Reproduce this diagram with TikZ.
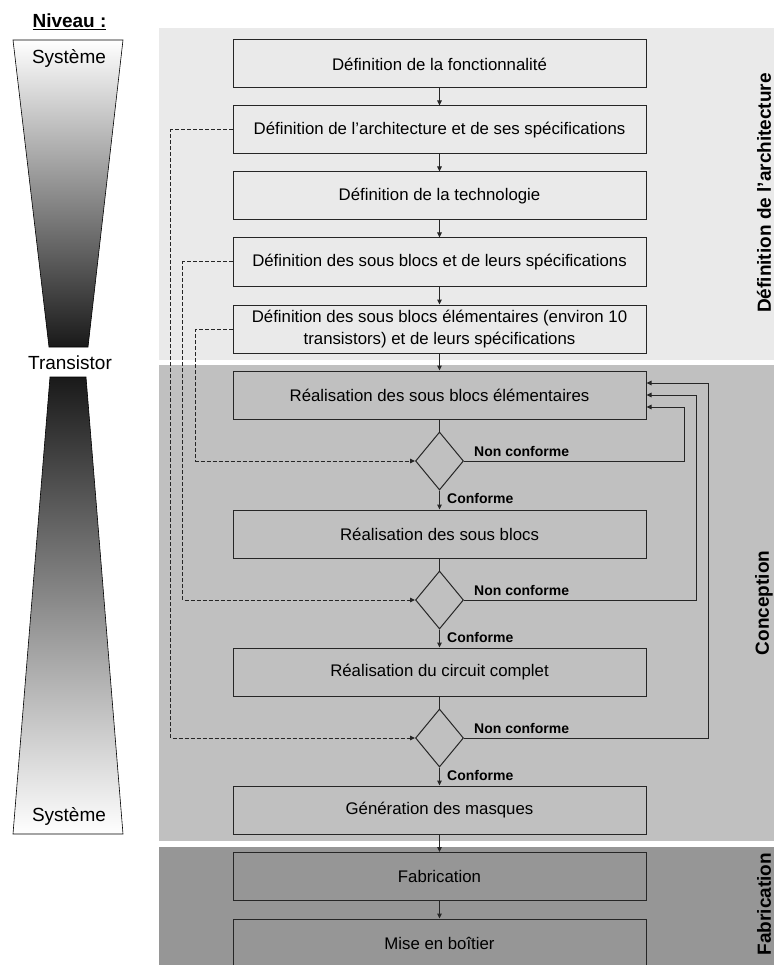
\documentclass[tikz,border=0pt]{standalone}
\usepackage{fontspec}
\setmainfont{Liberation Sans}
\usetikzlibrary{positioning,shapes.geometric,arrows.meta}
\definecolor{fondDef}{HTML}{EAEAEA}
\definecolor{fondConc}{HTML}{C0C0C0}
\definecolor{fondFab}{HTML}{969696}
\definecolor{trait}{HTML}{262626}

\begin{document}
\begin{tikzpicture}[x=1pt, y=-1pt,
    etape/.style={draw=trait, line width=1pt, minimum width=413pt, minimum height=48pt, inner sep=0pt, align=center, font=\fontsize{16.8}{22.5}\selectfont},
    losange/.style={draw=trait, line width=1pt, diamond, minimum width=48pt, minimum height=58pt, inner sep=0pt},
    lien/.style={draw=trait, line width=1pt, -{Triangle[length=5pt,width=4.5pt]}},
    retour/.style={lien, dash pattern=on 4pt off 2pt},
    verdict/.style={font=\bfseries\fontsize{14}{16}\selectfont, inner sep=0pt},
    phase/.style={rotate=90, inner sep=0pt, font=\bfseries\fontsize{19}{22}\selectfont},
    niveau/.style={font=\fontsize{19}{22}\selectfont}]
    \useasboundingbox (0,0) rectangle (774,965);

    % Bandes de fond
    \fill[fondDef] (159,28) rectangle (774,360);
    \fill[fondConc] (159,365) rectangle (774,841);
    \fill[fondFab] (159,847) rectangle (774,965);

    % Niveaux
    \node[font=\bfseries\fontsize{19}{22}\selectfont] (titreNiveau) at (69.5,22) {\underline{Niveau :}};
    \shadedraw[draw=black, line width=0.6pt, top color=white, middle color=black!22, bottom color=black!90] (13,40) -- (123,40) -- (88,347) -- (49,347) -- cycle;
    \shadedraw[draw=black, line width=0.6pt, top color=black!90, middle color=black!25, bottom color=white] (50,377) -- (86,377) -- (123,834) -- (13,834) -- cycle;
    \node[niveau] (sysHaut) at (69,58) {Système};
    \node[niveau] (transistor) at (70,363) {Transistor};
    \node[niveau] (sysBas) at (69,816) {Système};

    % Etapes
    \node[etape] (fonct) at (439.5,64) {Définition de la fonctionnalité};
    \node[etape] (archi) at (439.5,130) {Définition de l’architecture et de ses spécifications};
    \node[etape] (techno) at (439.5,196) {Définition de la technologie};
    \node[etape] (sousBlocs) at (439.5,262) {Définition des sous blocs et de leurs spécifications};
    \node[etape] (blocsElem) at (439.5,329) {Définition des sous blocs élémentaires (environ 10\\transistors) et de leurs spécifications};
    \node[etape] (realElem) at (439.5,395) {Réalisation des sous blocs élémentaires};
    \node[losange] (testElem) at (439.5,461) {};
    \node[etape] (realBlocs) at (439.5,534) {Réalisation des sous blocs};
    \node[losange] (testBlocs) at (439.5,600) {};
    \node[etape] (realCircuit) at (439.5,672) {Réalisation du circuit complet};
    \node[losange] (testCircuit) at (439.5,738) {};
    \node[etape] (masques) at (439.5,810) {Génération des masques};
    \node[etape] (fab) at (439.5,876.5) {Fabrication};
    \node[etape] (boitier) at (439.5,943) {Mise en boîtier};

    % Enchainement
    \draw[lien] (fonct) -- (archi);
    \draw[lien] (archi) -- (techno);
    \draw[lien] (techno) -- (sousBlocs);
    \draw[lien] (sousBlocs) -- (blocsElem);
    \draw[lien] (blocsElem) -- (realElem);
    \draw[draw=trait, line width=1pt] (realElem) -- (testElem);
    \draw[lien] (testElem) -- (realBlocs);
    \draw[draw=trait, line width=1pt] (realBlocs) -- (testBlocs);
    \draw[lien] (testBlocs) -- (realCircuit);
    \draw[draw=trait, line width=1pt] (realCircuit) -- (testCircuit);
    \draw[lien] (testCircuit) -- (masques);
    \draw[lien] (masques) -- (fab);
    \draw[lien] (fab) -- (boitier);

    % Retours non conformes
    \draw[lien] (testElem.east) -- ++(220,0) |- ([yshift=-12pt]realElem.east);
    \draw[lien] (testBlocs.east) -- ++(232,0) |- (realElem.east);
    \draw[lien] (testCircuit.east) -- ++(244,0) |- ([yshift=12pt]realElem.east);

    % Specifications vers les tests
    \draw[retour] (archi.west) -- ++(-62,0) |- (testCircuit.west);
    \draw[retour] (sousBlocs.west) -- ++(-50,0) |- (testBlocs.west);
    \draw[retour] (blocsElem.west) -- ++(-37,0) |- (testElem.west);

    % Verdicts
    \node[verdict, anchor=south west] (ncElem) at ([xshift=10pt,yshift=4pt]testElem.east) {Non conforme};
    \node[verdict, anchor=south west] (ncBlocs) at ([xshift=10pt,yshift=4pt]testBlocs.east) {Non conforme};
    \node[verdict, anchor=south west] (ncCircuit) at ([xshift=10pt,yshift=4pt]testCircuit.east) {Non conforme};
    \node[verdict, anchor=north west] (cElem) at ([xshift=7.5pt,yshift=-3pt]testElem.south) {Conforme};
    \node[verdict, anchor=north west] (cBlocs) at ([xshift=7.5pt,yshift=-3pt]testBlocs.south) {Conforme};
    \node[verdict, anchor=north west] (cCircuit) at ([xshift=7.5pt,yshift=-3pt]testCircuit.south) {Conforme};

    % Phases
    \node[phase] (phDef) at (764,193) {Définition de l’architecture};
    \node[phase] (phConc) at (764,603) {Conception};
    \node[phase] (phFab) at (764,904) {Fabrication};
\end{tikzpicture}
\end{document}
